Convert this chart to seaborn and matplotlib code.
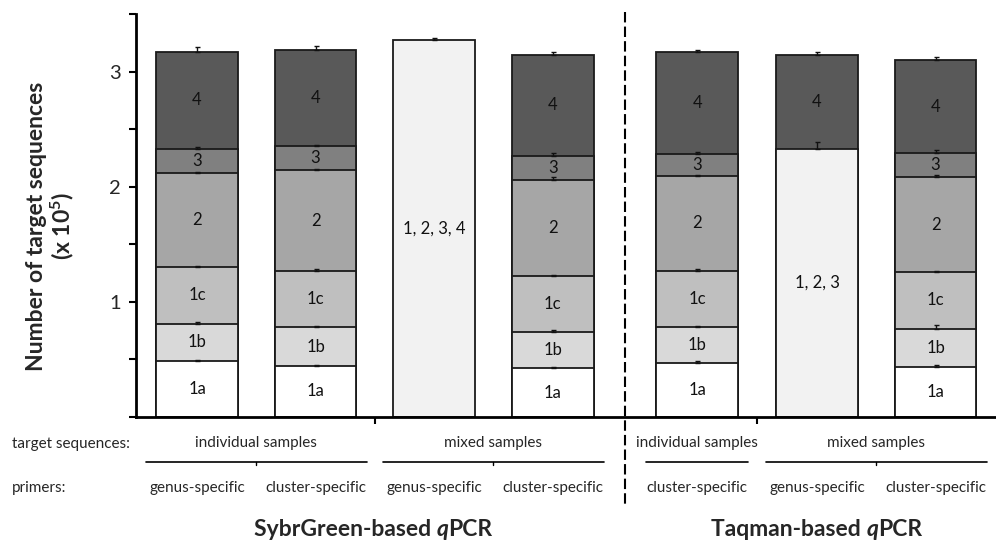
import numpy as np
import pandas as pd
import matplotlib
matplotlib.use("Agg")
import matplotlib.pyplot as plt
from matplotlib.transforms import blended_transform_factory
from matplotlib.offsetbox import TextArea, HPacker, AnnotationBbox
import seaborn as sns

# ---- data (target sequences, x 10^5) ----
# bar centres on the x axis; the Taqman block sits after a small gap
positions = [0, 1, 2, 3, 4.22, 5.23, 6.23]

# stacked segments of every bar, bottom to top
stack_labels = [
    ["1a", "1b", "1c", "2", "3", "4"],
    ["1a", "1b", "1c", "2", "3", "4"],
    ["1, 2, 3, 4"],
    ["1a", "1b", "1c", "2", "3", "4"],
    ["1a", "1b", "1c", "2", "3", "4"],
    ["1, 2, 3", "4"],
    ["1a", "1b", "1c", "2", "3", "4"],
]
stack_values = [
    [0.48, 0.33, 0.49, 0.82, 0.21, 0.84],
    [0.44, 0.34, 0.49, 0.87, 0.21, 0.84],
    [3.27],
    [0.42, 0.32, 0.48, 0.84, 0.21, 0.87],
    [0.47, 0.31, 0.49, 0.82, 0.19, 0.89],
    [2.33, 0.81],
    [0.43, 0.33, 0.50, 0.82, 0.21, 0.81],
]
stack_errors = [
    [0.01, 0.01, 0.01, 0.01, 0.015, 0.045],
    [0.01, 0.01, 0.01, 0.015, 0.01, 0.035],
    [0.02],
    [0.01, 0.01, 0.01, 0.02, 0.02, 0.03],
    [0.01, 0.01, 0.01, 0.01, 0.02, 0.02],
    [0.06, 0.03],
    [0.015, 0.035, 0.01, 0.025, 0.03, 0.03],
]

target_groups = ["individual samples", "mixed samples", "individual samples", "mixed samples"]
target_group_bars = [[0, 1], [2, 3], [4], [5, 6]]
primer_labels = ["genus-specific", "cluster-specific", "genus-specific", "cluster-specific",
                 "cluster-specific", "genus-specific", "cluster-specific"]
method_titles = [("SybrGreen-based ", "q", "PCR"), ("Taqman-based ", "q", "PCR")]
method_title_x = [373, 817]

segment_colors = {
    "1a": "#ffffff", "1b": "#d9d9d9", "1c": "#bfbfbf", "2": "#a6a6a6",
    "3": "#808080", "4": "#595959", "1, 2, 3, 4": "#f2f2f2", "1, 2, 3": "#f2f2f2",
}

# ---- long table with cumulative tops ----
rows = []
for pos, labs, vals, errs in zip(positions, stack_labels, stack_values, stack_errors):
    bottom = 0.0
    for lab, v, e in zip(labs, vals, errs):
        rows.append(dict(pos=pos, segment=lab, value=v, bottom=bottom, top=bottom + v, err=e))
        bottom += v
df = pd.DataFrame(rows)

# ---- style ----
sns.set_style("ticks")
plt.rcParams["font.family"] = ["Lato", "DejaVu Sans"]
plt.rcParams["mathtext.fontset"] = "custom"
plt.rcParams["mathtext.rm"] = "Lato"
plt.rcParams["mathtext.it"] = "Lato:italic"
plt.rcParams["mathtext.bf"] = "Lato:bold"

W, H = 996, 546
fig = plt.figure(figsize=(W / 100, H / 100), dpi=100)
x0_px, y0_px, top_px = 136, 416.7, 14
ax = fig.add_axes([x0_px / W, (H - y0_px) / H, (W - x0_px) / W, (y0_px - top_px) / H])

edge = "#1a1a1a"
# taller cumulative bars first, shorter ones painted over them
draw_order = ["4", "3", "2", "1c", "1b", "1a", "1, 2, 3, 4", "1, 2, 3"]
for seg in draw_order:
    sub = df[df["segment"] == seg]
    sns.barplot(data=sub, x="pos", y="top", native_scale=True, width=0.69,
                color=segment_colors[seg], saturation=1, errorbar=None,
                edgecolor=edge, linewidth=1.3, ax=ax, zorder=2)

# upward error bars at each segment top
ax.errorbar(df["pos"], df["top"], yerr=[np.zeros(len(df)), df["err"]], fmt="none",
            ecolor="#111111", elinewidth=1.0, capsize=1.8, capthick=1.0, zorder=3)

# segment names
for _, r in df.iterrows():
    ax.text(r["pos"], r["bottom"] + r["value"] / 2, r["segment"], ha="center", va="center",
            fontsize=12, color="#111111", zorder=4)

# ---- axes ----
ax.set_xlim(-0.515, 6.74)
ax.set_ylim(0, 3.5)
ax.set_xlabel("")
ax.set_ylabel("")
yt = np.arange(0, 3.51, 0.5)
ax.set_yticks(yt)
ax.set_yticklabels([str(int(t)) if t in (1, 2, 3) else "" for t in yt], fontsize=14.5)
ax.set_xticks([1.5, 4.725])
ax.set_xticklabels([])
ax.tick_params(axis="both", direction="out", length=5, width=1.5, color="black")
ax.tick_params(axis="y", pad=6)
for s in ["top", "right"]:
    ax.spines[s].set_visible(False)
for s in ["left", "bottom"]:
    ax.spines[s].set_linewidth(2)
    ax.spines[s].set_color("black")

def yfig(px):
    return 1 - px / H

def yax(px):
    return (y0_px - px) / (y0_px - top_px)

# dashed separator between the two qPCR methods
xt = ax.get_xaxis_transform()
ax.plot([3.61, 3.61], [yax(12), yax(505)], transform=xt, clip_on=False,
        color="black", lw=1.5, ls=(0, (5, 2)), zorder=5)

# y label
fig.text(51 / W, yfig(226), "Number of target sequences\n(x 10$^{\\mathbf{5}}$)",
         rotation=90, ha="center", va="center", fontsize=16.5, fontweight="bold",
         multialignment="center", linespacing=1.1)

# row labels below the axis
bt = blended_transform_factory(ax.transData, fig.transFigure)
fig.text(12 / W, yfig(444), "target sequences:", ha="left", va="center", fontsize=11)
fig.text(12 / W, yfig(488), "primers:", ha="left", va="center", fontsize=11)

for name, bars in zip(target_groups, target_group_bars):
    xs = [positions[i] for i in bars]
    xc = (xs[0] + xs[-1]) / 2
    ax.text(xc, yfig(443), name, transform=bt, ha="center", va="center", fontsize=11)
    ax.plot([xs[0] - 0.43, xs[-1] + 0.43], [yfig(461.5)] * 2, transform=bt,
            clip_on=False, color="black", lw=1.2)
    if len(xs) > 1:
        ax.plot([xc, xc], [yfig(461.5), yfig(465)], transform=bt, clip_on=False,
                color="black", lw=1.0)

for p, lab in zip(positions, primer_labels):
    ax.text(p, yfig(488), lab, transform=bt, ha="center", va="center", fontsize=11)

# method titles with italic q
for (a, q, b), xpx in zip(method_titles, method_title_x):
    parts = [TextArea(a, textprops=dict(fontsize=16.5, fontweight="bold")),
             TextArea(q, textprops=dict(fontsize=16.5, fontweight="bold", style="italic")),
             TextArea(b, textprops=dict(fontsize=16.5, fontweight="bold"))]
    pack = HPacker(children=parts, align="baseline", pad=0, sep=0)
    ab = AnnotationBbox(pack, (xpx / W, yfig(530)), xycoords="figure fraction",
                        frameon=False, box_alignment=(0.5, 0.5), pad=0)
    fig.add_artist(ab)

fig.savefig("out.png", dpi=100)
